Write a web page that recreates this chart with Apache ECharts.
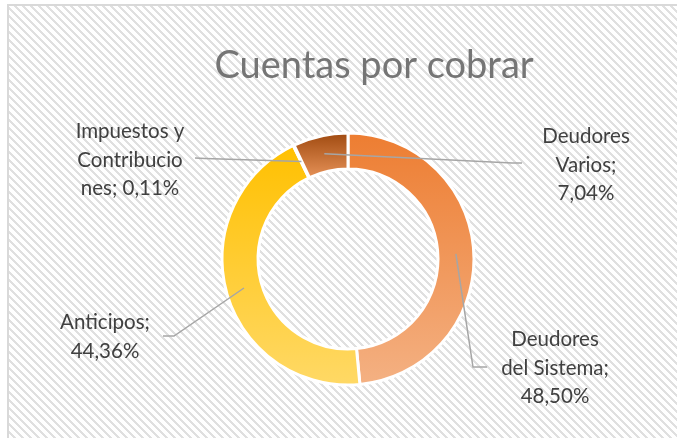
<!DOCTYPE html>
<html><head><meta charset="utf-8">
<script src="https://cdn.jsdelivr.net/npm/echarts@6/dist/echarts.min.js"></script>
<style>html,body{margin:0;padding:0;background:#fff}#c{width:677px;height:438px}</style>
</head><body><div id="c"></div>
<script>
const categories = ['Deudores del Sistema', 'Anticipos', 'Impuestos y Contribuciones', 'Deudores Varios'];
const values = [48.50, 44.36, 0.11, 7.04];
const wrappedNames = ['Deudores\ndel Sistema;', 'Anticipos;', 'Impuestos y\nContribucio\nnes;', 'Deudores\nVarios;'];
const topColors = ['#ED7D31', '#FFC000', '#A5A5A5', '#9E480E'];
const bottomColors = ['#F4B183', '#FFD966', '#C9C9C9', '#E8945A'];

function fmt(v){ return v.toFixed(2).replace('.', ',') + '%'; }

const pc = document.createElement('canvas');
pc.width = 8; pc.height = 8;
const g = pc.getContext('2d');
g.fillStyle = '#ffffff'; g.fillRect(0,0,8,8);
g.fillStyle = '#e0e0e0';
for (let y = 0; y < 8; y++) for (let x = 0; x < 8; x++) {
  const m = ((x - y) % 8 + 8) % 8;
  if (m < 3) g.fillRect(x, y, 1, 1);
}

const CX = 348, CY = 259, R0 = 90, R1 = 126;
const labelPos = [
  {x: 555, y: 368}, {x: 105, y: 337}, {x: 130, y: 160}, {x: 586, y: 165}
];
const leaderEnds = [
  [[473, 367], [487, 367]],
  [[174, 336], [163, 336]],
  [[205, 158.5], [195, 158]],
  [[512, 163], [522, 163]]
];
const total = values.reduce((a, b) => a + b, 0);
function midPoint(i) {
  let before = 0;
  for (let k = 0; k < i; k++) before += values[k];
  const ang = (before + values[i] / 2) / total * 2 * Math.PI;
  const r = (R0 + R1) / 2;
  return [CX + r * Math.sin(ang), CY - r * Math.cos(ang)];
}

const common = {
  type: 'pie',
  center: [CX, CY],
  radius: [R0, R1],
  startAngle: 90,
  clockwise: true,
  avoidLabelOverlap: false
};

const chart = echarts.init(document.getElementById('c'));
chart.setOption({
  backgroundColor: '#ffffff',
  animation: false,
  graphic: [{
    type: 'rect', z: -10, silent: true,
    shape: {x: 8, y: 5, width: 700, height: 460},
    style: {fill: {image: pc, repeat: 'repeat'}, stroke: '#d9d9d9', lineWidth: 2}
  }],
  title: {
    text: 'Cuentas por cobrar',
    left: 369, top: 42, textAlign: 'center',
    textStyle: {fontFamily: 'Lato', fontSize: 38, fontWeight: 'normal', color: '#757575'}
  },
  series: [Object.assign({}, common, {
    z: 2,
    itemStyle: {borderColor: '#ffffff', borderWidth: 3},
    label: {show: false},
    labelLine: {show: false},
    data: categories.map((c, i) => ({
      name: c, value: values[i],
      itemStyle: {color: {type: 'linear', x: 0, y: 0, x2: 0, y2: 1, colorStops: [
        {offset: 0, color: topColors[i]}, {offset: 1, color: bottomColors[i]}]}}
    }))
  }), Object.assign({}, common, {
    z: 5,
    silent: true,
    itemStyle: {color: 'rgba(0,0,0,0)', borderWidth: 0},
    label: {
      show: true,
      fontFamily: 'Lato', fontSize: 20.5, color: '#404040', lineHeight: 28.5,
      align: 'center',
      formatter: p => wrappedNames[p.dataIndex] + (p.dataIndex === 2 ? ' ' : '\n') + fmt(p.value)
    },
    labelLine: {show: true, lineStyle: {color: '#a6a6a6', width: 1.5}},
    labelLayout: p => {
      const i = p.dataIndex;
      return {
        x: labelPos[i].x, y: labelPos[i].y, align: 'center', verticalAlign: 'middle',
        labelLinePoints: [midPoint(i), leaderEnds[i][0], leaderEnds[i][1]]
      };
    },
    data: categories.map((c, i) => ({name: c, value: values[i]}))
  })]
});
</script></body></html>
